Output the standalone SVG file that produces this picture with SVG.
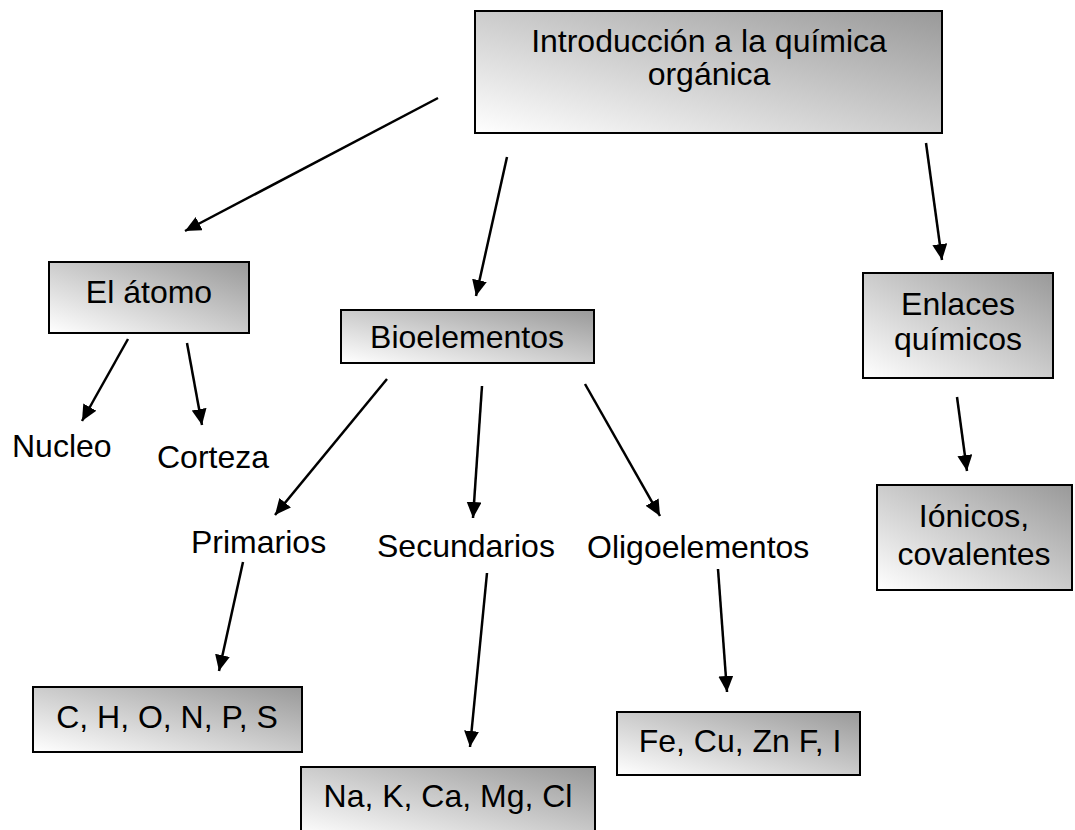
<svg xmlns="http://www.w3.org/2000/svg" width="1075" height="830" viewBox="0 0 1075 830">
<defs>
<linearGradient id="g" x1="0" y1="1" x2="1" y2="0">
<stop offset="0" stop-color="#ffffff"/>
<stop offset="1" stop-color="#999999"/>
</linearGradient>
<marker id="ah" markerUnits="userSpaceOnUse" markerWidth="18" markerHeight="16" refX="16" refY="7.5" orient="auto">
<path d="M0,0 L16,7.5 L0,15 z" fill="#000"/>
</marker>
</defs>
<style>
.box{fill:url(#g);stroke:#000;stroke-width:2}
text{font-family:"Liberation Sans",Arial,sans-serif;font-size:32px;fill:#000;text-anchor:middle}
.l{text-anchor:start}
.c line{stroke:#000;stroke-width:2.5;marker-end:url(#ah)}
</style>
<rect width="1075" height="830" fill="#fff"/>
<g id="n-intro"><rect class="box" x="475" y="11" width="467" height="122"/><text x="709" y="52">Introducción a la química</text><text x="709" y="85">orgánica</text></g>
<g id="n-atomo"><rect class="box" x="49" y="262" width="200" height="71"/><text x="149" y="303">El átomo</text></g>
<g id="n-bio"><rect class="box" x="341" y="310" width="253" height="53"/><text x="467" y="348">Bioelementos</text></g>
<g id="n-enlaces"><rect class="box" x="863" y="273" width="190" height="105"/><text x="958" y="315">Enlaces</text><text x="958" y="350">químicos</text></g>
<g id="n-ionicos"><rect class="box" x="877" y="485" width="195" height="105"/><text x="974" y="527">Iónicos,</text><text x="974" y="565">covalentes</text></g>
<g id="n-nucleo"><text class="l" x="12" y="457">Nucleo</text></g>
<g id="n-corteza"><text class="l" x="157" y="468">Corteza</text></g>
<g id="n-prim"><text class="l" x="191" y="553">Primarios</text></g>
<g id="n-sec"><text class="l" x="377" y="557">Secundarios</text></g>
<g id="n-oligo"><text class="l" x="587" y="558">Oligoelementos</text></g>
<g id="n-chonps"><rect class="box" x="33" y="687" width="269" height="65"/><text x="167" y="728">C, H, O, N, P, S</text></g>
<g id="n-nak"><rect class="box" x="301" y="767" width="294" height="70"/><text x="448" y="807">Na, K, Ca, Mg, Cl</text></g>
<g id="n-fe"><rect class="box" x="617" y="712" width="243" height="63"/><text x="740" y="752">Fe, Cu, Zn F, I</text></g>
<g id="connectors" class="c">
<line x1="438" y1="98" x2="185" y2="231"/>
<line x1="507" y1="157" x2="476" y2="296"/>
<line x1="926" y1="143" x2="942" y2="260"/>
<line x1="128" y1="339" x2="82" y2="421"/>
<line x1="187" y1="343" x2="202" y2="425"/>
<line x1="387" y1="379" x2="275" y2="515"/>
<line x1="482" y1="386" x2="473" y2="518"/>
<line x1="585" y1="384" x2="660" y2="516"/>
<line x1="243" y1="562" x2="219" y2="671"/>
<line x1="487" y1="573" x2="470" y2="747"/>
<line x1="718" y1="569" x2="727" y2="692"/>
<line x1="957" y1="397" x2="967" y2="471"/>
</g>
</svg>
